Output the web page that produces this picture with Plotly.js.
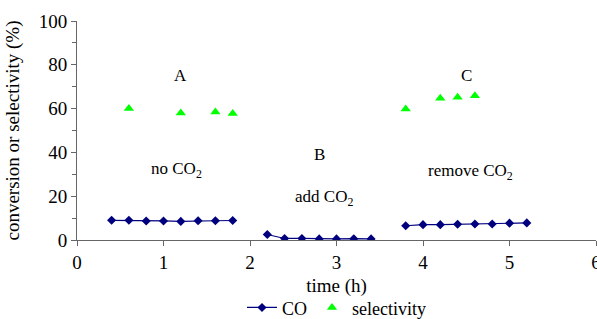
<!DOCTYPE html>
<html><head><meta charset="utf-8">
<script src="https://cdn.plot.ly/plotly-3.0.1.min.js"></script>
<style>html,body{margin:0;padding:0;background:#fff}#c{width:597px;height:319px}</style>
</head><body><div id="c"></div>
<script>
const coA_x = [0.4,0.6,0.8,1.0,1.2,1.4,1.6,1.8];
const coA_y = [9.0,9.0,8.7,8.7,8.5,8.8,8.8,8.9];
const coB_x = [2.2,2.4,2.6,2.8,3.0,3.2,3.4];
const coB_y = [2.5,0.7,0.7,0.5,0.5,0.6,0.5];
const coC_x = [3.8,4.0,4.2,4.4,4.6,4.8,5.0,5.2];
const coC_y = [6.5,7.0,7.0,7.2,7.3,7.3,7.7,7.8];
const selA_x = [0.6,1.2,1.6,1.8];
const selA_y = [60,58,58.4,57.8];
const selC_x = [3.8,4.2,4.4,4.6];
const selC_y = [59.8,64.7,65.2,65.9];

const FAM = 'Liberation Serif';
const f = (s)=>({family:FAM, size:s, color:'#000'});
const coStyle = {mode:'lines+markers', line:{color:'#00007f', width:1.2}, marker:{symbol:'diamond', size:7, color:'#00007f'}};
const selStyle = {mode:'markers', marker:{symbol:'triangle-up', size:9, color:'#00ff00'}};

const data = [
  Object.assign({x:coA_x, y:coA_y, name:'CO', legendgroup:'co'}, coStyle),
  Object.assign({x:coB_x, y:coB_y, name:'CO', legendgroup:'co', showlegend:false}, coStyle),
  Object.assign({x:coC_x, y:coC_y, name:'CO', legendgroup:'co', showlegend:false}, coStyle),
  Object.assign({x:selA_x, y:selA_y, name:'selectivity', legendgroup:'sel'}, selStyle),
  Object.assign({x:selC_x, y:selC_y, name:'selectivity', legendgroup:'sel', showlegend:false}, selStyle)
];

const ann = (x,y,t)=>({x:x,y:y,xref:'x',yref:'y',text:t,showarrow:false,font:f(17)});

const layout = {
  width:597, height:319,
  margin:{l:77, r:1, t:21, b:79, autoexpand:false},
  paper_bgcolor:'#fff', plot_bgcolor:'#fff',
  font: f(18),
  showlegend:true,
  legend:{orientation:'h', x:0.5, xanchor:'center', y:-0.225, yanchor:'top', font:f(18), tracegroupgap:0, itemwidth:30},
  xaxis:{range:[0,6], dtick:1, tick0:0, showgrid:false, zeroline:false, showline:true, linecolor:'#666', linewidth:1,
    ticks:'outside', ticklen:5, tickcolor:'#666', tickfont:f(19), automargin:false, ticklabeloverflow:'allow',
    title:{text:'time (h)', font:f(19), standoff:6}},
  yaxis:{range:[0,100], dtick:20, tick0:0, showgrid:false, zeroline:false, showline:true, linecolor:'#666', linewidth:1,
    ticks:'outside', ticklen:5, tickcolor:'#666', tickfont:f(19), automargin:false,
    minor:{dtick:10, ticks:'outside', ticklen:4, tickcolor:'#666', showgrid:false},
    title:{text:'conversion or selectivity (%)', font:f(19), standoff:14}},
  annotations:[
    ann(1.2,75,'A'),
    ann(1.15,32,'no CO<sub>2</sub>'),
    ann(2.8,39,'B'),
    ann(2.85,19,'add CO<sub>2</sub>'),
    ann(4.5,75,'C'),
    ann(4.55,31,'remove CO<sub>2</sub>')
  ]
};
Plotly.newPlot('c', data, layout, {displayModeBar:false, staticPlot:true});
</script></body></html>
